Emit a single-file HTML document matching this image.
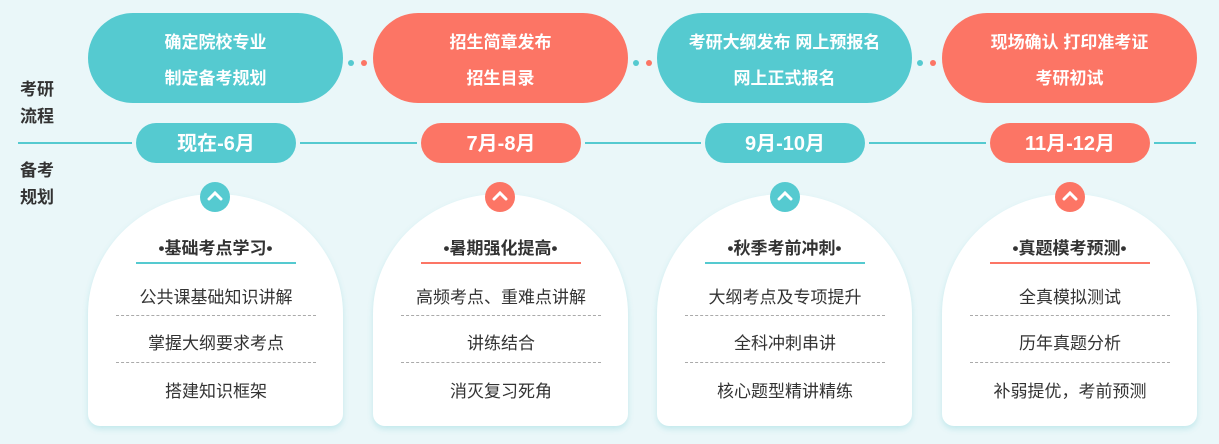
<!DOCTYPE html>
<html><head><meta charset="utf-8"><style>
*{margin:0;padding:0;box-sizing:border-box}
body{width:1219px;height:444px;background:#eaf7f9;position:relative;overflow:hidden;font-family:"Liberation Sans","Noto Sans CJK SC",sans-serif}
.a{position:absolute}
.pill{position:absolute;top:13px;width:255px;height:90px;border-radius:45px;color:#fff;font-weight:bold;font-size:17px;text-align:center;line-height:36px;padding-top:12px}
.t{background:#55cad0}.c{background:#fc7565}
.date{position:absolute;top:123px;width:160px;height:40px;border-radius:20px;color:#fff;font-weight:bold;font-size:20px;text-align:center;line-height:42px}
.line{position:absolute;top:142px;height:2px;background:#55cad0}
.dot{position:absolute;top:60px;width:6px;height:6px;border-radius:3px}
.lab{position:absolute;left:20px;font-size:17px;font-weight:bold;color:#333;line-height:27px}
.card{position:absolute;top:194px;width:255px;height:232px;background:#fff;border-radius:127px 127px 12px 12px/120px 120px 12px 12px;box-shadow:0 3px 6px rgba(80,190,200,.25);text-align:center}
.ic{position:absolute;top:182px;width:30px;height:30px;border-radius:15px}
.ic svg{position:absolute;left:7px;top:8px}
.ti{position:absolute;top:42px;left:0;width:255px;font-size:17px;font-weight:bold;color:#333;line-height:26px}
.ul{position:absolute;top:68px;left:48px;width:160px;height:1.5px}
.it{position:absolute;left:28px;width:200px;font-size:17px;color:#333;line-height:24px}
.dash{position:absolute;left:28px;width:200px;border-top:1px dashed #aaa}
</style></head><body>
<div class="lab" style="top:76px">考研<br>流程</div>
<div class="lab" style="top:157px">备考<br>规划</div>

<div class="line" style="left:18px;width:114px"></div>
<div class="line" style="left:300px;width:117px"></div>
<div class="line" style="left:585px;width:116px"></div>
<div class="line" style="left:869px;width:117px"></div>
<div class="line" style="left:1154px;width:42px"></div>

<div class="pill t" style="left:88px">确定院校专业<br>制定备考规划</div>
<div class="pill c" style="left:373px">招生简章发布<br>招生目录</div>
<div class="pill t" style="left:657px">考研大纲发布 网上预报名<br>网上正式报名</div>
<div class="pill c" style="left:942px">现场确认 打印准考证<br>考研初试</div>

<div class="dot t" style="left:348px"></div><div class="dot c" style="left:361px"></div>
<div class="dot t" style="left:633px"></div><div class="dot c" style="left:646px"></div>
<div class="dot t" style="left:917px"></div><div class="dot c" style="left:930px"></div>

<div class="date t" style="left:136px">现在-6月</div>
<div class="date c" style="left:421px">7月-8月</div>
<div class="date t" style="left:705px">9月-10月</div>
<div class="date c" style="left:990px">11月-12月</div>

<div class="card" style="left:88px"><div class="ti">•基础考点学习•</div><div class="ul t"></div>
<div class="it" style="top:92px">公共课基础知识讲解</div><div class="dash" style="top:121px"></div>
<div class="it" style="top:138px">掌握大纲要求考点</div><div class="dash" style="top:168px"></div>
<div class="it" style="top:186px">搭建知识框架</div></div>
<div class="card" style="left:373px"><div class="ti">•暑期强化提高•</div><div class="ul c"></div>
<div class="it" style="top:92px">高频考点、重难点讲解</div><div class="dash" style="top:121px"></div>
<div class="it" style="top:138px">讲练结合</div><div class="dash" style="top:168px"></div>
<div class="it" style="top:186px">消灭复习死角</div></div>
<div class="card" style="left:657px"><div class="ti">•秋季考前冲刺•</div><div class="ul t"></div>
<div class="it" style="top:92px">大纲考点及专项提升</div><div class="dash" style="top:121px"></div>
<div class="it" style="top:138px">全科冲刺串讲</div><div class="dash" style="top:168px"></div>
<div class="it" style="top:186px">核心题型精讲精练</div></div>
<div class="card" style="left:942px"><div class="ti">•真题模考预测•</div><div class="ul c"></div>
<div class="it" style="top:92px">全真模拟测试</div><div class="dash" style="top:121px"></div>
<div class="it" style="top:138px">历年真题分析</div><div class="dash" style="top:168px"></div>
<div class="it" style="top:186px">补弱提优，考前预测</div></div>

<div class="ic t" style="left:200px"><svg width="16" height="12"><path d="M2 9 L8 3 L14 9" stroke="#fff" stroke-width="3" fill="none" stroke-linecap="round"/></svg></div>
<div class="ic c" style="left:485px"><svg width="16" height="12"><path d="M2 9 L8 3 L14 9" stroke="#fff" stroke-width="3" fill="none" stroke-linecap="round"/></svg></div>
<div class="ic t" style="left:770px"><svg width="16" height="12"><path d="M2 9 L8 3 L14 9" stroke="#fff" stroke-width="3" fill="none" stroke-linecap="round"/></svg></div>
<div class="ic c" style="left:1055px"><svg width="16" height="12"><path d="M2 9 L8 3 L14 9" stroke="#fff" stroke-width="3" fill="none" stroke-linecap="round"/></svg></div>
</body></html>
